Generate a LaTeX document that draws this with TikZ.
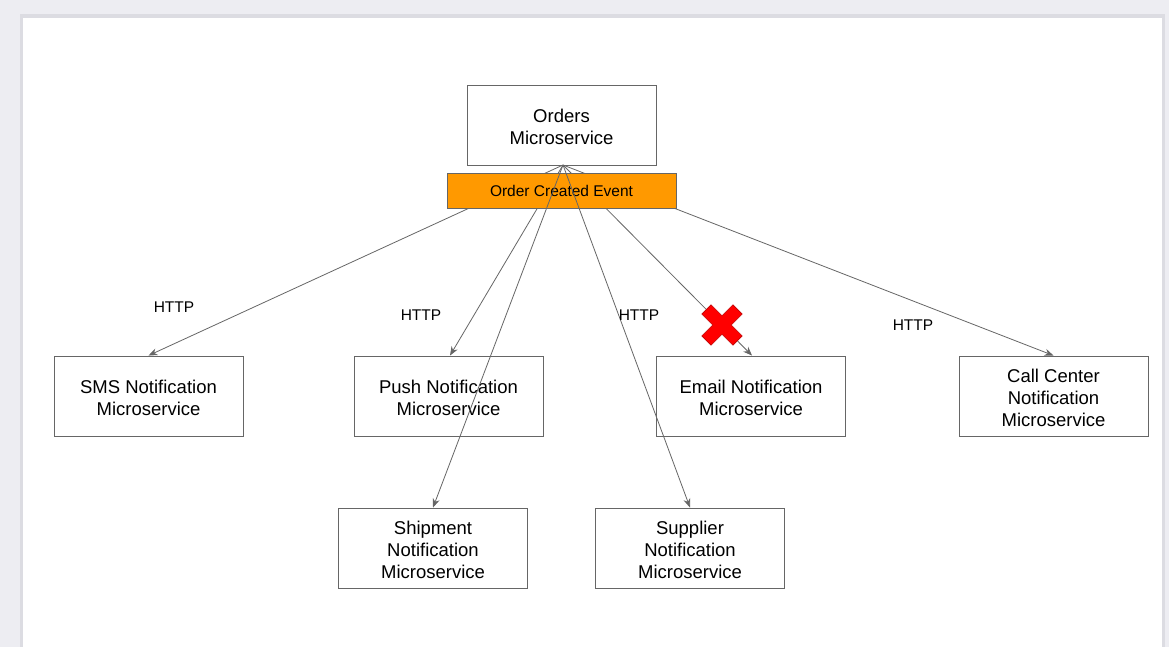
\documentclass[tikz,border=0pt]{standalone}
\usepackage{fontspec}
\setmainfont{Liberation Sans}
\usetikzlibrary{arrows.meta}
\definecolor{pagebg}{HTML}{EDEDF2}
\definecolor{shadow}{HTML}{DCDCE2}
\definecolor{boxline}{HTML}{666666}
\definecolor{eventorange}{HTML}{FF9900}
\definecolor{xred}{HTML}{FF0000}
\definecolor{xdark}{HTML}{C00000}
\tikzset{
  svc/.style={draw=boxline, line width=0.9pt, minimum width=189pt, minimum height=80pt,
    align=center, font=\fontsize{18.5pt}{22pt}\selectfont, inner sep=0pt},
  evt/.style={draw=boxline, line width=0.9pt, fill=eventorange, minimum width=229pt,
    minimum height=35pt, inner sep=0pt, font=\fontsize{15.5pt}{18pt}\selectfont},
  conn/.style={draw=boxline, line width=0.8pt, -{Stealth[length=9pt,width=7pt]}},
  lbl/.style={font=\fontsize{15.5pt}{18pt}\selectfont, inner sep=0pt}
}
\begin{document}
\begin{tikzpicture}[x=1pt,y=-1pt]
\useasboundingbox (0,0) rectangle (1169,647);
% page background
\fill[pagebg] (0,0) rectangle (1169,647);
\fill[shadow] (20,14) rectangle (1165,647);
\fill[white] (23,18) rectangle (1162,647);

% nodes (text nudged down slightly with a top strut)
\node[svc] (orders) at (561.5,125) {\rule{0pt}{17pt}Orders\\Microservice};
\node[svc] (sms) at (148.5,396) {\rule{0pt}{17pt}SMS Notification\\Microservice};
\node[svc] (push) at (448.5,396) {\rule{0pt}{17pt}Push Notification\\Microservice};
\node[svc] (email) at (751,396) {\rule{0pt}{17pt}Email Notification\\Microservice};
\node[svc] (call) at (1053.5,396) {\rule{0pt}{17pt}Call Center\\Notification\\Microservice};
\node[svc] (ship) at (433,548) {\rule{0pt}{17pt}Shipment\\Notification\\Microservice};
\node[svc] (supp) at (690,548) {\rule{0pt}{17pt}Supplier\\Notification\\Microservice};

\coordinate (o) at (563,165);

% connectors hidden behind the event box
\draw[conn] (o) -- (sms.north);
\draw[conn] (o) -- ([xshift=1.5pt]push.north);
\draw[conn] (o) -- ([xshift=1pt]email.north);
\draw[conn] (o) -- (call.north);

% event box
\node[evt] (event) at (561.5,190.5) {Order Created Event};

% connectors drawn over everything
\draw[conn] (o) -- (ship.north);
\draw[conn] (o) -- (supp.north);

% labels
\node[lbl] (h1) at (174,307) {HTTP};
\node[lbl] (h2) at (421,315) {HTTP};
\node[lbl] (h3) at (639,315) {HTTP};
\node[lbl] (h4) at (913,325) {HTTP};

% red cross
\begin{scope}[shift={(722,325)}, rotate=45]
\draw[fill=xred, draw=xdark, line width=0.6pt]
  (-6.5,-22) -- (6.5,-22) -- (6.5,-6.5) -- (22,-6.5) -- (22,6.5) -- (6.5,6.5)
  -- (6.5,22) -- (-6.5,22) -- (-6.5,6.5) -- (-22,6.5) -- (-22,-6.5) -- (-6.5,-6.5) -- cycle;
\end{scope}
\end{tikzpicture}
\end{document}
